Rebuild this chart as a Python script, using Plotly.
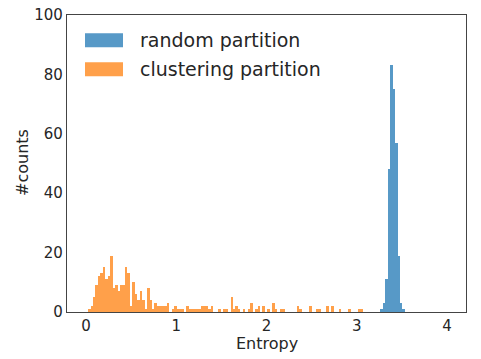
import numpy as np
import plotly.graph_objects as go

# ---- data (histogram counts) ----
BIN_START = 0.024       # left edge of the first bin (entropy units)
BIN_WIDTH = 0.0272      # common bin width

clustering_counts = [
    1, 2, 5, 9, 12, 13, 15, 11, 12, 19, 8, 9, 7, 9, 9, 15, 13, 2, 10, 6, 4, 7,
    4, 1, 8, 4, 1, 3, 2, 2, 2, 2, 3, 0, 1, 2, 1,
    1, 1, 0, 2,
    1, 1, 1, 1, 1,
    2, 2, 2,
    1, 2, 0, 0, 1, 0, 1, 1, 0, 5, 1, 2, 1, 0, 1, 0, 1, 3, 0, 1, 2, 0, 2, 0, 1, 0,
    3, 1, 0, 1, 1, 0, 0, 0, 0, 0, 2, 1, 0, 0, 0, 2, 0, 0, 1, 1, 0, 0, 2, 0, 2,
    0, 0, 1, 0, 0, 0, 1, 0, 0, 0, 1, 1,
]
clustering_first_bin = 0

random_counts = [1, 3, 11, 48, 83, 75, 57, 19, 3, 1]
random_first_bin = 119

series_names = ["random partition", "clustering partition"]
x_ticks = [0, 1, 2, 3, 4]
y_ticks = [0, 20, 40, 60, 80, 100]
x_title = "Entropy"
y_title = "#counts"

BLUE = "rgb(87,153,199)"
ORANGE = "rgb(255,160,74)"
TEXT = "#262626"
FONT = "DejaVu Sans"


def centers(first_bin, n):
    return BIN_START + (np.arange(n) + first_bin + 0.5) * BIN_WIDTH


fig = go.Figure()
fig.add_trace(go.Bar(
    x=centers(random_first_bin, len(random_counts)), y=random_counts,
    width=BIN_WIDTH, marker=dict(color=BLUE, line=dict(width=0)),
    name=series_names[0], showlegend=False))
fig.add_trace(go.Bar(
    x=centers(clustering_first_bin, len(clustering_counts)), y=clustering_counts,
    width=BIN_WIDTH, marker=dict(color=ORANGE, line=dict(width=0)),
    name=series_names[1], showlegend=False))

# manual legend (wide patches like the reference)
W, H = 481, 359
L, R, T, B = 67, 15, 15, 47
pw, ph = W - L - R, H - T - B


def px(xp):
    return (xp - L) / pw


def py(yp):
    return (H - B - yp) / ph


legend_rows = [(series_names[0], BLUE, 40.3), (series_names[1], ORANGE, 69.3)]
for name, col, yc in legend_rows:
    fig.add_shape(type="rect", xref="paper", yref="paper",
                  x0=px(85), x1=px(123), y0=py(yc + 7), y1=py(yc - 7),
                  fillcolor=col, line=dict(width=0))
    fig.add_annotation(xref="paper", yref="paper", x=px(138), y=py(yc),
                       xanchor="left", yanchor="middle", showarrow=False,
                       text=name, font=dict(family=FONT, size=19, color=TEXT))

# axis titles placed as annotations at the reference positions
fig.add_annotation(xref="paper", yref="paper", x=px(267), y=py(343.5),
                   xanchor="center", yanchor="middle", showarrow=False, borderpad=0,
                   text=x_title, font=dict(family=FONT, size=16, color=TEXT))
fig.add_annotation(xref="paper", yref="paper", x=px(22), y=py(163),
                   xanchor="center", yanchor="middle", showarrow=False, textangle=-90,
                   text=y_title, font=dict(family=FONT, size=16, color=TEXT))

axis_common = dict(showline=True, linecolor="#444", linewidth=1.25, mirror=True,
                   showgrid=False, zeroline=False, ticks="", automargin=False,
                   tickfont=dict(family=FONT, size=15, color=TEXT))

fig.update_layout(
    width=W, height=H, margin=dict(l=L, r=R, t=T, b=B),
    paper_bgcolor="white", plot_bgcolor="white",
    barmode="overlay", bargap=0,
    font=dict(family=FONT, color=TEXT),
    xaxis=dict(range=[-0.21, 4.21], tickvals=x_ticks, **axis_common),
    yaxis=dict(range=[0, 100], tickvals=y_ticks, **axis_common),
)

fig.write_html("out.html", config={"displayModeBar": False},
               post_script="document.body.style.margin='0';document.body.style.overflow='hidden';")
